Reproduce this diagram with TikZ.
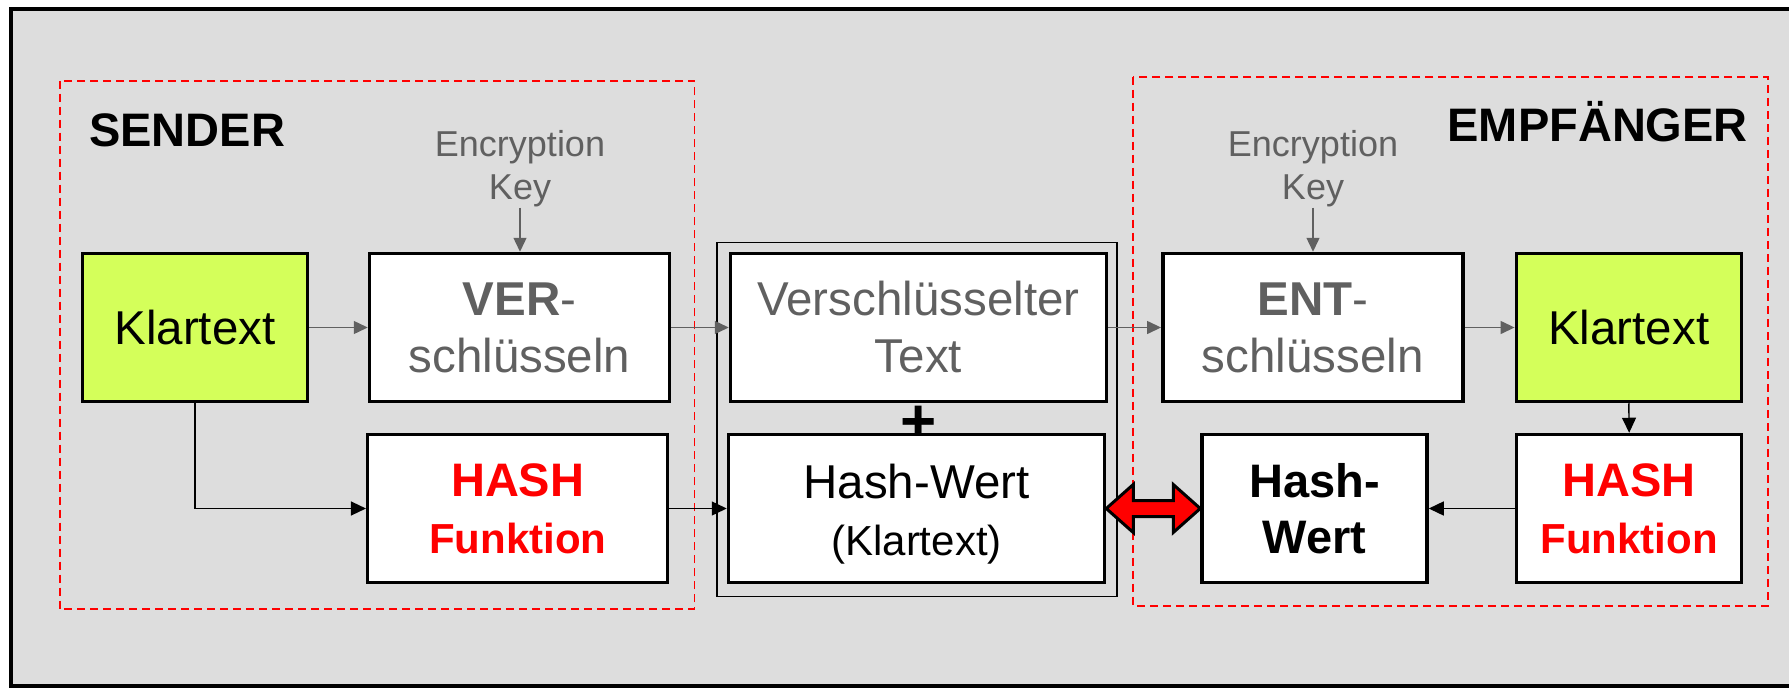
\documentclass[tikz,border=0pt]{standalone}
\usepackage{fontspec}
\setmainfont{Liberation Sans}
\usetikzlibrary{arrows.meta,calc}
\definecolor{bggray}{RGB}{221,221,221}
\definecolor{klgreen}{RGB}{212,255,90}
\definecolor{txtgray}{RGB}{96,96,96}
\definecolor{hred}{RGB}{255,0,0}
\begin{document}
\begin{tikzpicture}[x=1pt,y=-1pt,
  box/.style={draw=black, line width=3.5pt, fill=white, minimum height=148pt, inner sep=0pt, align=center, font=\fontsize{47.5}{57}\selectfont},
  wsmall/.style={minimum width=225pt},
  wmid/.style={minimum width=300pt},
  wlarge/.style={minimum width=376pt},
  klbox/.style={fill=klgreen},
  graytext/.style={text=txtgray},
  redtext/.style={text=hred},
  grayarr/.style={draw=txtgray, line width=1.4pt, -{Triangle[length=14pt,width=13pt,fill=txtgray]}},
  blkarr/.style={draw=black, line width=1.4pt, -{Triangle[length=15pt,width=14pt]}},
  groupbox/.style={draw=hred, line width=1.8pt, dash pattern=on 8pt off 5pt},
  title/.style={inner sep=0pt, font=\bfseries\fontsize{47}{56}\selectfont},
  keytxt/.style={text=txtgray, align=center, inner sep=0pt, font=\fontsize{36}{43.5}\selectfont},
  dblarrow/.style={draw=black, line width=3pt, fill=hred, line join=miter}
]
\useasboundingbox (0,0) rectangle (1789,688);
\clip (0,0) rectangle (1789,688);
\fill[white] (0,0) rectangle (1789,688);
\draw[line width=4pt, fill=bggray] (11,9) rectangle (1810,686);

% group frames
\draw[groupbox] (60,80.7) rectangle (694.5,609.3);
\draw[groupbox] (1133.3,76.7) rectangle (1768.3,605.7);
\draw[line width=1.5pt] (717,242.5) rectangle (1117,596.5);

% titles
\node[title, anchor=base west] (sender) at (89,146.7) {SENDER};
\node[title, anchor=base east] (empf) at (1748,141.7) {EMPFÄNGER};

% keys
\node[keytxt, anchor=south] (key1) at (520,207.6) {Encryption\\Key};
\node[keytxt, anchor=south] (key2) at (1313,207.6) {Encryption\\Key};

% plus
\node[inner sep=0pt, font=\bfseries\fontsize{62}{62}\selectfont] (plus) at (919,424) {+};

% boxes
\node[box, wsmall, klbox] (kl1) at (195,327.5) {Klartext};
\node[box, wmid, graytext] (ver) at (519.5,327.5) {{\bfseries VER}-\\schlüsseln};
\node[box, wmid, redtext] (hash1) at (517.7,508.5) {{\fontsize{47}{53}\selectfont\bfseries HASH}\\{\fontsize{42}{53}\selectfont\bfseries Funktion}};
\node[box, wlarge, graytext] (verschl) at (918.5,327.5) {Verschlüsselter\\Text};
\node[box, wlarge] (hw) at (916.5,508.5) {{\fontsize{47.5}{52.6}\selectfont\rule{0pt}{45pt}Hash-Wert}\\{\fontsize{42}{52.6}\selectfont (Klartext)}};
\node[box, wmid, graytext] (ent) at (1312.8,327.5) {{\bfseries ENT}-\\schlüsseln};
\node[box, wsmall, klbox] (kl2) at (1628.8,327.5) {Klartext};
\node[box, wsmall, font=\bfseries\fontsize{47}{56}\selectfont] (hw2) at (1314.5,508.5) {Hash-\\Wert};
\node[box, wsmall, redtext] (hash2) at (1629.2,508.5) {{\fontsize{47}{53}\selectfont\bfseries HASH}\\{\fontsize{42}{53}\selectfont\bfseries Funktion}};

% connectors
\draw[grayarr] (key1.south) -- (key1.south |- ver.north);
\draw[grayarr] (key2.south) -- (key2.south |- ent.north);
\draw[grayarr] (kl1.east) -- (ver.west);
\draw[grayarr] (ver.east) -- (verschl.west);
\draw[grayarr] (verschl.east) -- (ent.west);
\draw[grayarr] (ent.east) -- (kl2.west);
\draw[blkarr] (kl1.south) |- (hash1.west);
\draw[blkarr] (hash1.east) -- (hw.west);
\draw[blkarr] (kl2.south) -- (hash2.north);
\draw[blkarr] (hash2.west) -- (hw2.east);
\draw[dblarrow] (hw.east) -- ++(27,-24) -- ++(0,16) -- ($(hw2.west)+(-27,-8)$) -- ++(0,-16) -- (hw2.west) -- ++(-27,24) -- ++(0,-16) -- ($(hw.east)+(27,8)$) -- ++(0,16) -- cycle;
\end{tikzpicture}
\end{document}
